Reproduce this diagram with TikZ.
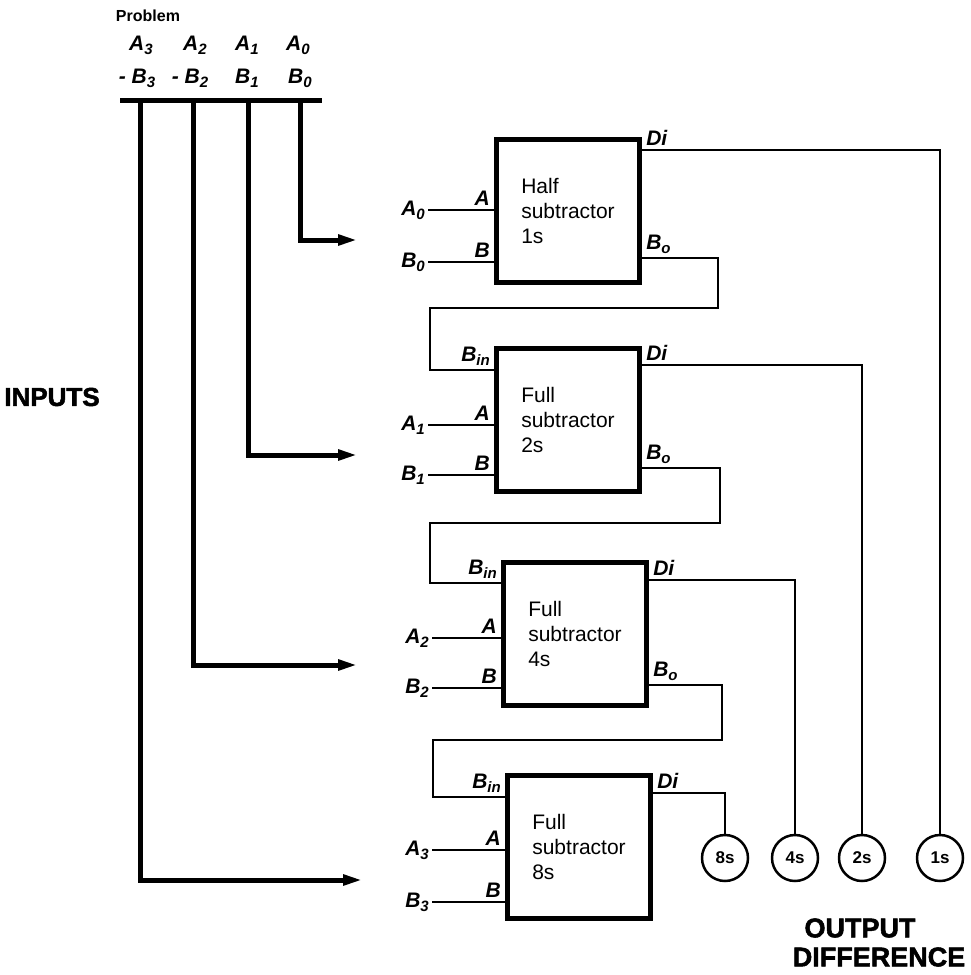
\documentclass[tikz,border=0pt]{standalone}
\usepackage{fontspec}
\setmainfont{Liberation Sans}
\newfontfamily\heavyfont[FakeBold=2]{Liberation Sans Bold}
\usetikzlibrary{arrows.meta}
\newcommand\lsub[1]{\raisebox{-0.35ex}{\fontsize{15}{15}\selectfont #1}}

\begin{document}
\begin{tikzpicture}[
    x=1pt, y=-1pt,
    unit/.style={draw, line width=5pt, minimum width=143pt, minimum height=143pt,
                 align=left, inner sep=0pt, font=\fontsize{21}{25}\selectfont},
    wire/.style={line width=2.5pt},
    bus/.style={line width=5pt},
    feed/.style={line width=5pt, -{Triangle[length=20pt,width=10pt]}},
    pinlbl/.style={inner sep=3pt, font=\fontsize{21}{21}\selectfont\bfseries\itshape},
    digit/.style={draw, circle, line width=2.5pt, minimum size=46pt, inner sep=0pt,
                  font=\fontsize{17}{17}\selectfont\bfseries},
    heading/.style={inner sep=0pt, font=\fontsize{27}{27}\heavyfont}
]
\useasboundingbox (0,0) rectangle (970,975);

% subtractor blocks
\node[unit] (hs) at (568,211) {Half\\subtractor\\1s};
\node[unit] (fs2) at (568,420) {Full\\subtractor\\2s};
\node[unit] (fs4) at (575,634) {Full\\subtractor\\4s};
\node[unit] (fs8) at (579,847) {Full\\subtractor\\8s};

% output digits
\node[digit] (d8) at (725,858) {8s};
\node[digit] (d4) at (795,858) {4s};
\node[digit] (d2) at (862,858) {2s};
\node[digit] (d1) at (940,858) {1s};

\node[heading] (outa) at (860,928) {OUTPUT};
\node[heading] (outb) at (879,957) {DIFFERENCE};
\node[heading, font=\fontsize{26}{26}\heavyfont] (inp) at (52,397) {INPUTS};

% problem
\node[inner sep=0pt, font=\fontsize{16}{16}\selectfont\bfseries] (prob) at (148,16) {Problem};
\node[pinlbl] (pa3) at (141,45) {A\lsub{3}};
\node[pinlbl] (pa2) at (195,45) {A\lsub{2}};
\node[pinlbl] (pa1) at (247,45) {A\lsub{1}};
\node[pinlbl] (pa0) at (298,45) {A\lsub{0}};
\node[pinlbl] (pb3) at (137,78) {- B\lsub{3}};
\node[pinlbl] (pb2) at (190,78) {- B\lsub{2}};
\node[pinlbl] (pb1) at (247,78) {B\lsub{1}};
\node[pinlbl] (pb0) at (300,78) {B\lsub{0}};

\draw[bus] (120,100) -- (322,100);

\coordinate (f0) at (358,240);
\coordinate (f1) at (358,455);
\coordinate (f2) at (358,665);
\coordinate (f3) at (363,880);
\draw[feed] (300,100) |- (f0);
\draw[feed] (248,100) |- (f1);
\draw[feed] (193,100) |- (f2);
\draw[feed] (140,100) |- (f3);

% inputs
\node[pinlbl, anchor=east] (a0) at (428,210) {A\lsub{0}};
\node[pinlbl, anchor=east] (b0) at (428,262) {B\lsub{0}};
\node[pinlbl, anchor=east] (a1) at (428,425) {A\lsub{1}};
\node[pinlbl, anchor=east] (b1) at (428,475) {B\lsub{1}};
\node[pinlbl, anchor=east] (a2) at (432,638) {A\lsub{2}};
\node[pinlbl, anchor=east] (b2) at (432,688) {B\lsub{2}};
\node[pinlbl, anchor=east] (a3) at (432,850) {A\lsub{3}};
\node[pinlbl, anchor=east] (b3) at (432,902) {B\lsub{3}};

\draw[wire] (a0) -- (a0 -| hs.west) node[pinlbl, above left] {A};
\draw[wire] (b0) -- (b0 -| hs.west) node[pinlbl, above left] {B};
\draw[wire] (a1) -- (a1 -| fs2.west) node[pinlbl, above left] {A};
\draw[wire] (b1) -- (b1 -| fs2.west) node[pinlbl, above left] {B};
\draw[wire] (a2) -- (a2 -| fs4.west) node[pinlbl, above left] {A};
\draw[wire] (b2) -- (b2 -| fs4.west) node[pinlbl, above left] {B};
\draw[wire] (a3) -- (a3 -| fs8.west) node[pinlbl, above left] {A};
\draw[wire] (b3) -- (b3 -| fs8.west) node[pinlbl, above left] {B};

% borrow chain
\draw[wire] ([yshift=-47pt]hs.east) node[pinlbl, above right] {B\lsub{o}}
    -| (718,308) -| (430,370) -- ([yshift=50pt]fs2.west) node[pinlbl, above left] {B\lsub{in}};
\draw[wire] ([yshift=-48pt]fs2.east) node[pinlbl, above right] {B\lsub{o}}
    -| (720,523) -| (430,583) -- ([yshift=51pt]fs4.west) node[pinlbl, above left] {B\lsub{in}};
\draw[wire] ([yshift=-51pt]fs4.east) node[pinlbl, above right] {B\lsub{o}}
    -| (722,740) -| (433,797) -- ([yshift=50pt]fs8.west) node[pinlbl, above left] {B\lsub{in}};

% differences
\draw[wire] ([yshift=61pt]hs.east) node[pinlbl, above right] {Di} -| (d1);
\draw[wire] ([yshift=55pt]fs2.east) node[pinlbl, above right] {Di} -| (d2);
\draw[wire] ([yshift=54pt]fs4.east) node[pinlbl, above right] {Di} -| (d4);
\draw[wire] ([yshift=54pt]fs8.east) node[pinlbl, above right] {Di} -| (d8);

\end{tikzpicture}
\end{document}
